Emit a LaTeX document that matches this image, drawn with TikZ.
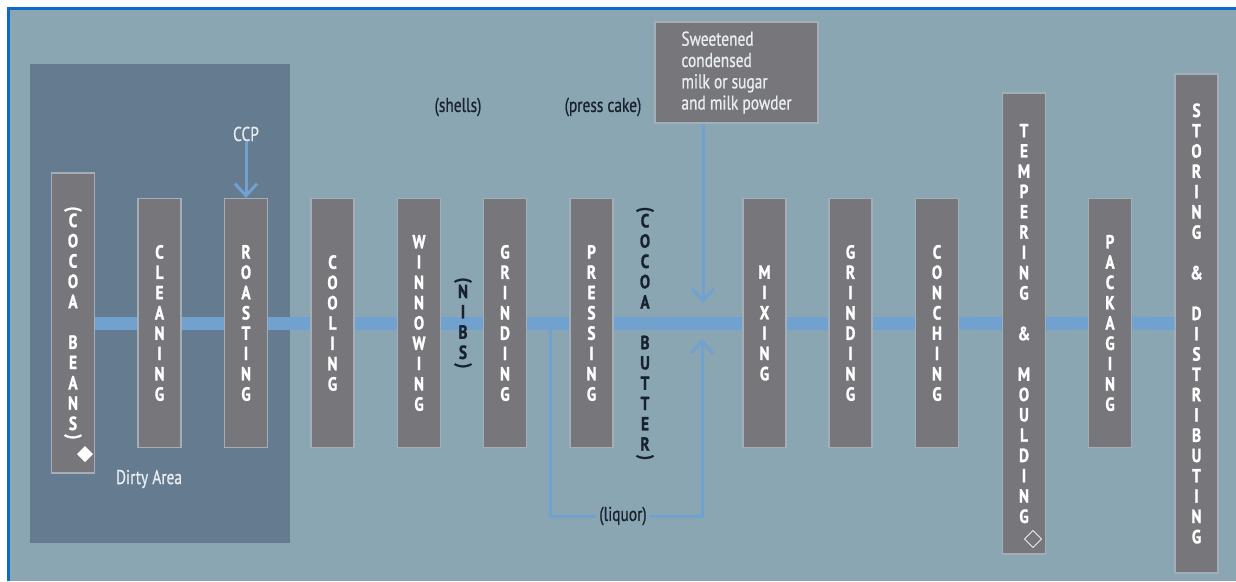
\documentclass[tikz,border=0pt]{standalone}
\usepackage{fontspec}
\setmainfont{PT Sans}
\newfontfamily\lblfont[FakeStretch=0.77,FakeBold=0.7]{PT Sans}
\newfontfamily\stkfont[FakeStretch=0.8,FakeBold=1.3]{PT Sans Bold}
\usetikzlibrary{arrows.meta}
\definecolor{bgcol}{HTML}{8BA6B3}
\definecolor{dirtycol}{HTML}{657C90}
\definecolor{boxgray}{HTML}{77777B}
\definecolor{boxline}{HTML}{A3AEB8}
\definecolor{flowblue}{HTML}{70A1CF}
\definecolor{framecol}{HTML}{0A6CC8}
\definecolor{darktext}{HTML}{18222E}
\definecolor{lighttext}{HTML}{E8EDF1}
\begin{document}
\begin{tikzpicture}[x=1pt,y=-1pt,
  stepbox/.style={rectangle, fill=boxgray, draw=boxline, line width=1.2pt, inner sep=0pt,
    minimum width=43pt, minimum height=249pt, text=white, align=center,
    font=\stkfont\fontsize{19}{20.3}\selectfont},
  darkstack/.style={rectangle, inner sep=0pt, text=darktext, align=center,
    font=\stkfont\fontsize{19}{20.3}\selectfont},
  flow/.style={draw=flowblue, line width=13pt},
  feed/.style={draw=flowblue, line width=3pt},
  tip/.style={-{Straight Barb[width=22pt,length=12pt]}},
  lbl/.style={font=\lblfont\fontsize{20}{21.3}\selectfont, inner sep=1pt},
]
\useasboundingbox (0,0) rectangle (1236,581);
\fill[white] (0,0) rectangle (1236,581);
\fill[bgcol] (8,8) rectangle (1236,581);
\draw[framecol, line width=3pt] (8,581) -- (8,8) -- (1236,8);

% dirty area
\node[rectangle, fill=dirtycol, inner sep=0pt, minimum width=260pt, minimum height=479pt] (dirty) at (160,303.5) {};

% process steps
\node[stepbox, minimum height=300pt] (beans) at (73,323)
  {\rotatebox{-90}{(}\\C\\O\\C\\O\\A\\~\\B\\E\\A\\N\\S\\[-16pt]\rotatebox{-90}{)}};
\node[stepbox] (cleaning) at (159.5,323) {C\\L\\E\\A\\N\\I\\N\\G};
\node[stepbox] (roasting) at (246,323) {R\\O\\A\\S\\T\\I\\N\\G};
\node[stepbox] (cooling) at (332.5,323) {C\\O\\O\\L\\I\\N\\G};
\node[stepbox] (winnowing) at (419,323) {W\\I\\N\\N\\O\\W\\I\\N\\G};
\node[stepbox] (grinding) at (505,323) {G\\R\\I\\N\\D\\I\\N\\G};
\node[stepbox] (pressing) at (591.5,323) {P\\R\\E\\S\\S\\I\\N\\G};
\node[stepbox] (mixing) at (764.5,323) {M\\I\\X\\I\\N\\G};
\node[stepbox] (grinding2) at (850.5,323) {G\\R\\I\\N\\D\\I\\N\\G};
\node[stepbox] (conching) at (937,323) {C\\O\\N\\C\\H\\I\\N\\G};
\node[stepbox, minimum height=461pt] (tempering) at (1024,323.5)
  {T\\E\\M\\P\\E\\R\\I\\N\\G\\~\\\&\\~\\M\\O\\U\\L\\D\\I\\N\\G};
\node[stepbox] (packaging) at (1110,323) {P\\A\\C\\K\\A\\G\\I\\N\\G};
\node[stepbox, minimum height=499pt] (storing) at (1196.5,323.5)
  {S\\T\\O\\R\\I\\N\\G\\~\\\&\\~\\D\\I\\S\\T\\R\\I\\B\\U\\T\\I\\N\\G};

% ingredient box
\node[rectangle, fill=boxgray, draw=boxline, line width=1.2pt, minimum width=163pt,
  minimum height=101pt, align=left, text=lighttext, lbl] (sweet) at (736.5,72.5)
  {Sweetened\\condensed\\milk or sugar\\and milk powder};

% main flow
\foreach \a/\b in {beans/cleaning, cleaning/roasting, roasting/cooling, cooling/winnowing,
  winnowing/grinding, grinding/pressing, pressing/mixing, mixing/grinding2,
  grinding2/conching, conching/tempering, tempering/packaging, packaging/storing}
  \draw[flow] (\a) -- (\b);

% labels
\node[lbl, text=lighttext] (ccp) at (246,134) {CCP};
\node[lbl, text=lighttext] (dirtylbl) at (149,479) {Dirty Area};
\node[lbl, text=darktext] (shells) at (458,107) {(shells)};
\node[lbl, text=darktext] (presscake) at (603,107) {(press cake)};
\node[lbl, text=darktext, inner xsep=3pt] (liquor) at (623,516) {(liquor)};

% side streams
\node[darkstack] (nibs) at (463,323)
  {\rotatebox{-90}{(}\\N\\I\\B\\S\\[-16pt]\rotatebox{-90}{)}};
\node[darkstack] (butter) at (645,333.5)
  {\rotatebox{-90}{(}\\C\\O\\C\\O\\A\\~\\B\\U\\T\\T\\E\\R\\[-16pt]\rotatebox{-90}{)}};

% arrows
\draw[feed, tip] (ccp) -- (roasting);
\coordinate (milktip) at (703,303);
\draw[feed, tip] (sweet.south -| milktip) -- (milktip);
\coordinate (split) at (550,323);
\coordinate (liqtip) at (702,339);
\draw[feed] (split) |- (liquor.west);
\draw[feed, tip] (liquor.east) -| (liqtip);

% markers
\fill[white] (85,446) -- (93,454) -- (85,462) -- (77,454) -- cycle;
\draw[white!85!gray, line width=1pt] (1033,530.5) -- (1041.5,539) -- (1033,547.5) -- (1024.5,539) -- cycle;
\end{tikzpicture}
\end{document}
